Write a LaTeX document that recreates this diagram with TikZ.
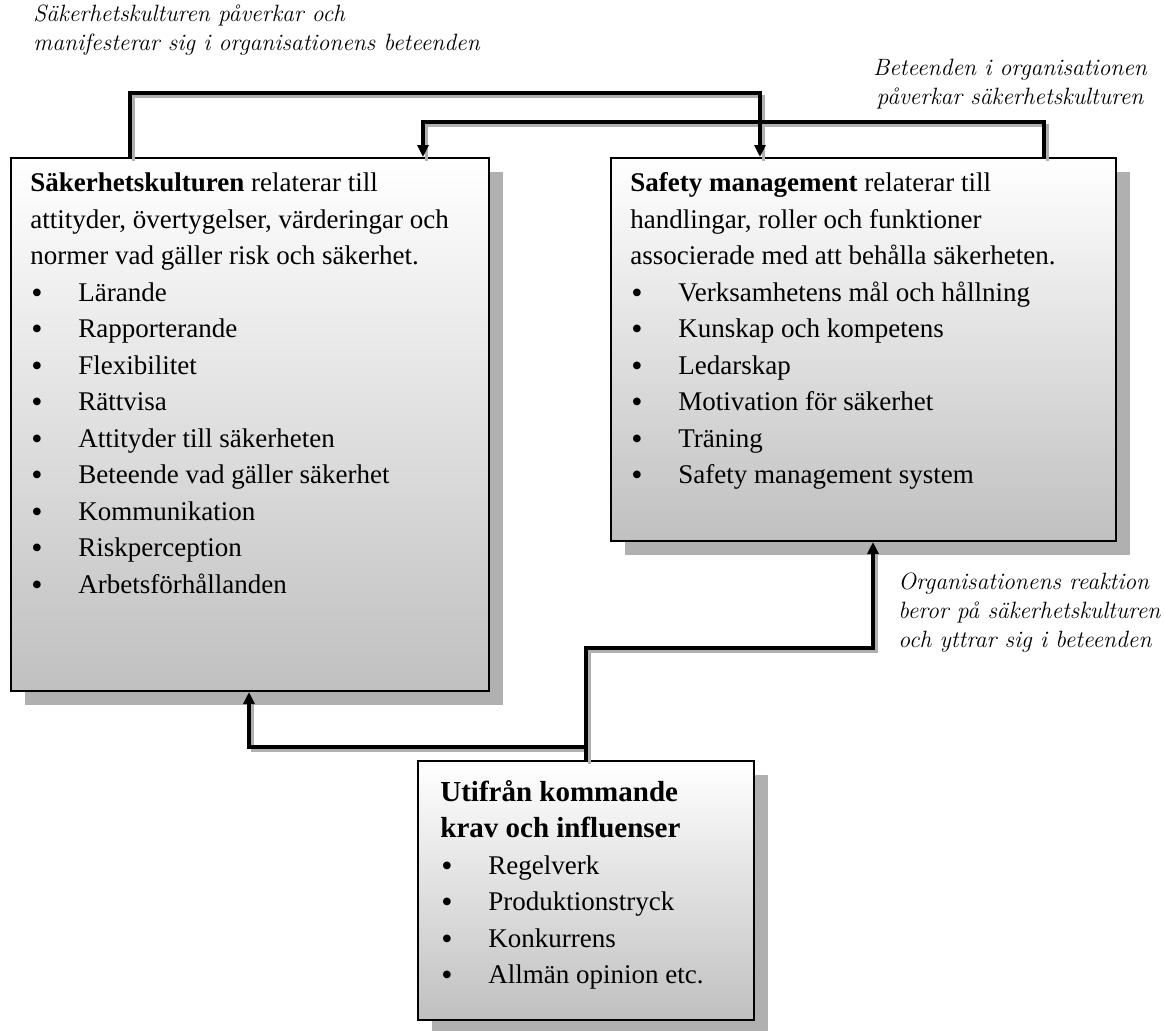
\documentclass[tikz,border=0pt]{standalone}
\usepackage{fontspec}
\setmainfont{Liberation Serif}
\newfontfamily\notefont{Latin Modern Roman}
\usepackage{tikz}
\usetikzlibrary{arrows.meta,shadows}
\definecolor{boxshade}{RGB}{192,192,192}
\definecolor{shadowgray}{RGB}{176,176,176}
\newcommand{\bitem}[1]{\hspace*{0.5pt}\makebox[23.5pt][l]{\raisebox{-1pt}{\fontsize{16pt}{16pt}\selectfont\textbullet}}#1}

\begin{document}
\begin{tikzpicture}[x=0.5pt, y=-0.5pt,
  frame/.style={draw=black, line width=1pt, top color=white, bottom color=boxshade, anchor=north west, inner sep=0pt,
    drop shadow={shadow xshift=7pt, shadow yshift=-7pt, fill=shadowgray, opacity=1}},
  boxtext/.style={anchor=north west, inner sep=0pt, align=left, font=\fontsize{13.5pt}{18.25pt}\selectfont},
  note/.style={inner sep=0pt, font=\notefont\fontsize{11.8pt}{14.5pt}\selectfont\itshape},
  wire/.style={line width=1.6pt},
  wireshade/.style={draw=shadowgray, line width=1.2pt, transform canvas={shift={(1.8pt,-1.8pt)}}},
  arr/.style={-{Triangle[length=6pt,width=5.5pt]}}]
\useasboundingbox (0,0) rectangle (1164,1030);

% boxes
\node[frame, minimum width=239pt, minimum height=266.5pt] (kultur) at (10,157) {};
\node[frame, minimum width=252.5pt, minimum height=191.5pt] (safety) at (610,157) {};
\node[frame, minimum width=168pt, minimum height=129.5pt] (utifran) at (417,760) {};

\node[boxtext] (kulturtext) at ([xshift=10pt, yshift=-7.7pt]kultur.north west) {\textbf{Säkerhetskulturen} relaterar till\\
attityder, övertygelser, värderingar och\\
normer vad gäller risk och säkerhet.\\
\bitem{Lärande}\\
\bitem{Rapporterande}\\
\bitem{Flexibilitet}\\
\bitem{Rättvisa}\\
\bitem{Attityder till säkerheten}\\
\bitem{Beteende vad gäller säkerhet}\\
\bitem{Kommunikation}\\
\bitem{Riskperception}\\
\bitem{Arbetsförhållanden}};

\node[boxtext] (safetytext) at ([xshift=10pt, yshift=-7.7pt]safety.north west) {\textbf{Safety management} relaterar till\\
handlingar, roller och funktioner\\
associerade med att behålla säkerheten.\\
\bitem{Verksamhetens mål och hållning}\\
\bitem{Kunskap och kompetens}\\
\bitem{Ledarskap}\\
\bitem{Motivation för säkerhet}\\
\bitem{Träning}\\
\bitem{Safety management system}};

\node[boxtext] (utifrantext) at ([xshift=11.5pt, yshift=-10pt]utifran.north west) {{\fontsize{14.5pt}{18.25pt}\selectfont\bfseries Utifrån kommande}\\
{\fontsize{14.5pt}{18.25pt}\selectfont\bfseries krav och influenser}\\
\bitem{Regelverk}\\
\bitem{Produktionstryck}\\
\bitem{Konkurrens}\\
\bitem{Allmän opinion etc.}};

% connectors
\path (utifran.north) ++(0,-13) coordinate (split);
\draw[wireshade] ([xshift=60pt]kultur.north west) -- ++(0,-64) -| ([xshift=75pt]safety.north west);
\draw[wireshade] ([xshift=-36.5pt]safety.north east) -- ++(0,-35) -| ([xshift=-33.5pt]kultur.north east);
\draw[wireshade] (utifran.north) -- ++(0,-112) -| ([xshift=131.5pt]safety.south west);
\draw[wireshade] (split) -| ([xshift=119.5pt]kultur.south west);
\draw[wire, arr] ([xshift=60pt]kultur.north west) -- ++(0,-64) -| ([xshift=75pt]safety.north west);
\draw[wire, arr] ([xshift=-36.5pt]safety.north east) -- ++(0,-35) -| ([xshift=-33.5pt]kultur.north east);
\draw[wire, arr] (utifran.north) -- ++(0,-112) -| ([xshift=131.5pt]safety.south west);
\draw[wire, arr] (split) -| ([xshift=119.5pt]kultur.south west);

% notes
\node[note, anchor=north west, align=left] (noteculture) at (33,4) {Säkerhetskulturen påverkar och\\manifesterar sig i organisationens beteenden};
\node[note, anchor=north, align=center] (notebehaviour) at (1010,59) {Beteenden i organisationen\\påverkar säkerhetskulturen};
\node[note, anchor=north west, align=left] (notereaction) at (898,572) {Organisationens reaktion\\beror på säkerhetskulturen\\och yttrar sig i beteenden};
\end{tikzpicture}
\end{document}
